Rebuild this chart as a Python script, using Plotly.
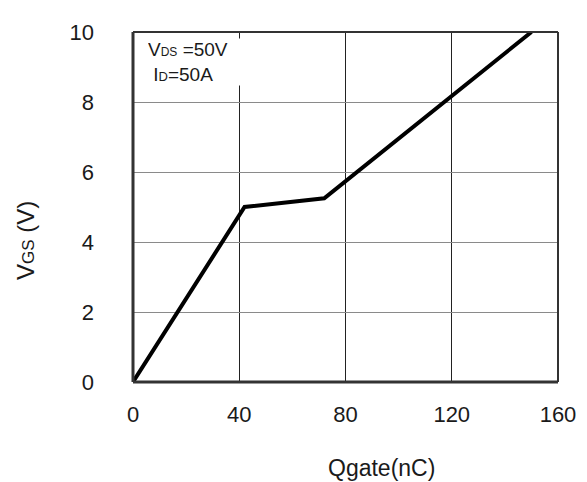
import plotly.graph_objects as go

qgate = [0, 42, 72, 150]
vgs = [0, 5.0, 5.25, 10]
x_ticks = [0, 40, 80, 120, 160]
y_ticks = [0, 2, 4, 6, 8, 10]

# page body has an 8px margin; compensate so the plot lands where the reference is
OFF = 8
W, H = 587, 482
L, R, T, B = 133 - OFF, W - 558 + OFF, 27 - OFF, H - 382 + OFF

fig = go.Figure()
fig.add_trace(go.Scatter(x=qgate, y=vgs, mode="lines",
                         line=dict(color="black", width=4), showlegend=False))

font = dict(family="Liberation Sans, Arial, sans-serif", color="#1a1a1a")

pw = W - L - R
ph = H - T - B


def px(xp):
    return (xp - OFF - L) / pw


def py(yp):
    return (H - B - (yp - OFF)) / ph


fig.update_layout(
    width=W, height=H,
    margin=dict(l=L, r=R, t=T, b=B),
    paper_bgcolor="white", plot_bgcolor="white",
    font=dict(**font, size=22),
    xaxis=dict(range=[0, 160], tickvals=x_ticks, showgrid=True, gridcolor="#222222",
               gridwidth=1, zeroline=False, showline=False, ticks="",
               ticklabelstandoff=17, tickfont=dict(size=22)),
    yaxis=dict(range=[0, 10], tickvals=y_ticks, showgrid=True, gridcolor="#8a8a8a",
               gridwidth=1, zeroline=False, showline=False, ticks="",
               ticklabelstandoff=38, tickfont=dict(size=22)),
    shapes=[
        dict(type="line", xref="paper", yref="paper", x0=0, x1=1, y0=1, y1=1,
             line=dict(color="#333333", width=2)),
        dict(type="line", xref="paper", yref="paper", x0=1, x1=1, y0=0, y1=1,
             line=dict(color="#333333", width=2)),
        dict(type="line", xref="paper", yref="paper", x0=0, x1=0, y0=0, y1=1,
             line=dict(color="#333333", width=3)),
        dict(type="line", xref="paper", yref="paper", x0=0, x1=1, y0=0, y1=0,
             line=dict(color="#333333", width=3)),
    ],
    annotations=[
        dict(xref="paper", yref="paper", x=px(147), y=py(33), xanchor="left", yanchor="top",
             align="left", showarrow=False, bgcolor="white", borderpad=0, width=98,
             text="V<span style='font-size:12px'>DS</span> =50V<br> I<span style='font-size:13px'>D</span>=50A",
             font=dict(**font, size=19)),
        dict(xref="paper", yref="paper", x=px(381), y=py(469), xanchor="center", yanchor="middle",
             showarrow=False, text="Qgate(nC)", font=dict(**font, size=23)),
        dict(xref="paper", yref="paper", x=px(25), y=py(239), xanchor="center", yanchor="middle",
             showarrow=False, textangle=-90,
             text="V<span style='font-size:17px'>GS</span> (V)", font=dict(**font, size=24)),
    ],
)

fig.write_html("out.html")
